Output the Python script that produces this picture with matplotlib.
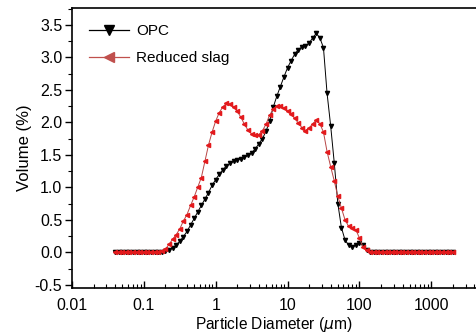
import matplotlib
matplotlib.use("Agg")
import matplotlib.pyplot as plt
from matplotlib.lines import Line2D
from matplotlib.ticker import FixedLocator, NullFormatter, MultipleLocator

plt.rcParams['font.family'] = ['Liberation Sans', 'DejaVu Sans']
plt.rcParams['axes.unicode_minus'] = False

# particle diameters (um), laser diffraction bins
diameter = [
    0.0398, 0.0447, 0.0501, 0.0562, 0.0631, 0.0708, 0.0794, 0.0891, 0.100, 0.112,
    0.126, 0.141, 0.158, 0.178, 0.200, 0.224, 0.251, 0.282, 0.316, 0.355,
    0.398, 0.447, 0.501, 0.562, 0.631, 0.708, 0.794, 0.891, 1.000, 1.122,
    1.259, 1.413, 1.585, 1.778, 1.995, 2.239, 2.512, 2.818, 3.162, 3.548,
    3.981, 4.467, 5.012, 5.623, 6.310, 7.079, 7.943, 8.913, 10.00, 11.22,
    12.59, 14.13, 15.85, 17.78, 19.95, 22.39, 25.12, 28.18, 31.62, 35.48,
    39.81, 44.67, 50.12, 56.23, 63.10, 70.79, 79.43, 89.13, 100.0, 112.2,
    125.9, 141.3, 158.5, 177.8, 199.5, 223.9, 251.2, 281.8, 316.2, 354.8,
    398.1, 446.7, 501.2, 562.3, 631.0, 707.9, 794.3, 891.3, 1000, 1122,
    1259, 1413, 1585, 1778, 1995,
]

opc = [
    0, 0, 0, 0, 0, 0, 0, 0, 0, 0,
    0, 0, 0, 0.01, 0.02, 0.04, 0.07, 0.11, 0.17, 0.24,
    0.32, 0.42, 0.52, 0.62, 0.72, 0.82, 0.92, 1.03, 1.12, 1.20,
    1.27, 1.33, 1.37, 1.40, 1.42, 1.44, 1.46, 1.49, 1.53, 1.59,
    1.67, 1.75, 1.86, 2.02, 2.23, 2.40, 2.55, 2.70, 2.84, 2.95,
    3.05, 3.12, 3.16, 3.18, 3.22, 3.30, 3.37, 3.30, 3.15, 2.45,
    1.95, 1.38, 0.75, 0.38, 0.19, 0.11, 0.08, 0.11, 0.15, 0.11,
    0.04, 0.01, 0, 0, 0, 0, 0, 0, 0, 0,
    0, 0, 0, 0, 0, 0, 0, 0, 0, 0,
    0, 0, 0, 0, 0,
]

slag = [
    0, 0, 0, 0, 0, 0, 0, 0, 0, 0,
    0, 0, 0, 0.02, 0.05, 0.12, 0.20, 0.27, 0.36, 0.48,
    0.58, 0.72, 0.85, 1.00, 1.15, 1.40, 1.65, 1.85, 2.02, 2.15,
    2.24, 2.29, 2.28, 2.24, 2.17, 2.08, 1.97, 1.88, 1.82, 1.80,
    1.81, 1.87, 1.97, 2.11, 2.20, 2.25, 2.25, 2.22, 2.18, 2.13,
    2.06, 1.99, 1.92, 1.87, 1.91, 1.98, 2.03, 1.98, 1.85, 1.55,
    1.32, 1.10, 0.86, 0.68, 0.50, 0.40, 0.37, 0.35, 0.22, 0.08,
    0.03, 0.01, 0, 0, 0, 0, 0, 0, 0, 0,
    0, 0, 0, 0, 0, 0, 0, 0, 0, 0,
    0, 0, 0, 0, 0,
]

x_ticks = [0.01, 0.1, 1, 10, 100, 1000]
x_tick_labels = ['0.01', '0.1', '1', '10', '100', '1000']

fig = plt.figure(figsize=(4.76, 3.33), dpi=100)
ax = fig.add_axes([72 / 476, 45 / 333, 404 / 476, 280 / 333])

ax.plot(diameter, opc, color='black', lw=0.7, marker='v', ms=3,
        mec='black', mfc='black')
ax.plot(diameter, slag, color='#b84646', lw=0.7, marker='<', ms=3,
        mec='#e3191c', mfc='#e3191c')

ax.set_xscale('log')
ax.set_xlim(0.01, 4200)
ax.set_ylim(-0.55, 3.76)

ax.xaxis.set_major_locator(FixedLocator(x_ticks))
ax.set_xticklabels(x_tick_labels)
ax.xaxis.set_minor_locator(FixedLocator(
    [m * 10.0 ** e for e in range(-2, 4) for m in range(2, 10)]))
ax.xaxis.set_minor_formatter(NullFormatter())
ax.yaxis.set_major_locator(MultipleLocator(0.5))
ax.yaxis.set_minor_locator(MultipleLocator(0.25))

ax.tick_params(axis='x', which='both', direction='in', labelsize=11.5, pad=7)
ax.tick_params(axis='x', which='major', length=5, width=1)
ax.tick_params(axis='x', which='minor', length=3, width=0.8)
ax.tick_params(axis='y', which='both', direction='out', labelsize=11.5, pad=2)
ax.tick_params(axis='y', which='major', length=5, width=1)
ax.tick_params(axis='y', which='minor', length=3, width=0.8)

ax.spines['right'].set_visible(False)
for s in ['left', 'bottom', 'top']:
    ax.spines[s].set_linewidth(1.2)

ax.set_xlabel(r'Particle Diameter ($\mu$m)', fontsize=11.2, labelpad=2)
ax.set_ylabel('Volume (%)', fontsize=12, labelpad=2)

handles = [
    Line2D([], [], color='black', lw=0.9, marker='v', ms=7, mfc='black', mec='black'),
    Line2D([], [], color='#c0504d', lw=0.9, marker='<', ms=7, mfc='#c0504d', mec='#c0504d'),
]
ax.legend(handles, ['OPC', 'Reduced slag'], loc='upper left', frameon=False,
          fontsize=11, handlelength=2.6, handletextpad=0.5, labelspacing=0.85,
          borderaxespad=0.4, bbox_to_anchor=(0.012, 0.985))

fig.savefig('out.png', dpi=100)
